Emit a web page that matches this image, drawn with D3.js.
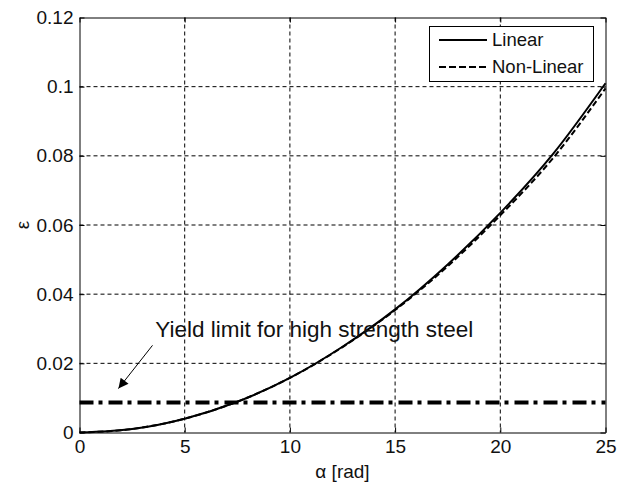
<!DOCTYPE html>
<html>
<head>
<meta charset="utf-8">
<script src="https://cdn.jsdelivr.net/npm/d3@7"></script>
<style>
  html, body { margin: 0; padding: 0; background: #fff; }
  svg { display: block; }
  text { font-family: "Liberation Sans", Arial, Helvetica, sans-serif; fill: #111; }
</style>
</head>
<body>
<svg id="chart" width="618" height="487"></svg>
<script>
// ---- data ----
const alpha = [0, 2.5, 5, 7.5, 10, 12.5, 15, 17.5, 20, 22.5, 25];
const linearEps = [0, 0.0010, 0.0040, 0.0089, 0.0158, 0.0248, 0.0356, 0.0486, 0.0635, 0.0805, 0.1010];
const nonLinearEps = [0, 0.0010, 0.0040, 0.0089, 0.0158, 0.0247, 0.0354, 0.0481, 0.0628, 0.0793, 0.0995];
const yieldLimit = 0.0087;
const xTicks = [0, 5, 10, 15, 20, 25];
const xTickLabels = ["0", "5", "10", "15", "20", "25"];
const yTicks = [0, 0.02, 0.04, 0.06, 0.08, 0.10, 0.12];
const yTickLabels = ["0", "0.02", "0.04", "0.06", "0.08", "0.1", "0.12"];
const seriesNames = ["Linear", "Non-Linear"];
const annotationText = "Yield limit for high strength steel";
const annotationTextPos = [3.6, 0.0275];
const arrowFrom = [3.47, 0.0252];
const arrowTo = [1.85, 0.0127];
const xLabel = "\u03B1 [rad]";
const yLabel = "\u03B5";

// ---- layout ----
const W = 618, H = 487;
const L = 79.5, R = 605.5, T = 17.5, B = 432.5;
const svg = d3.select("#chart");
svg.append("rect").attr("width", W).attr("height", H).attr("fill", "#fff");

const x = d3.scaleLinear().domain([0, 25]).range([L, R]);
const y = d3.scaleLinear().domain([0, 0.12]).range([B, T]);

// grid
const grid = svg.append("g").attr("stroke", "#000").attr("stroke-width", 1).attr("stroke-dasharray", "4,3").attr("fill", "none");
xTicks.slice(1, -1).forEach(v => {
  grid.append("line").attr("x1", x(v)).attr("x2", x(v)).attr("y1", T).attr("y2", B);
});
yTicks.slice(1, -1).forEach(v => {
  grid.append("line").attr("x1", L).attr("x2", R).attr("y1", y(v)).attr("y2", y(v));
});

// curves
const line = d3.line().x(d => x(d[0])).y(d => y(d[1])).curve(d3.curveMonotoneX);
const linPts = alpha.map((a, i) => [a, linearEps[i]]);
const nlPts = alpha.map((a, i) => [a, nonLinearEps[i]]);
const plot = svg.append("g");
plot.append("path").datum(linPts).attr("d", line).attr("fill", "none").attr("stroke", "#000").attr("stroke-width", 2);
plot.append("path").datum(nlPts).attr("d", line).attr("fill", "none").attr("stroke", "#000").attr("stroke-width", 2).attr("stroke-dasharray", "6,3");

// yield line
plot.append("line").attr("x1", x(0)).attr("x2", x(25)).attr("y1", y(yieldLimit)).attr("y2", y(yieldLimit))
  .attr("stroke", "#000").attr("stroke-width", 4).attr("stroke-dasharray", "14,5,4,6");

// axes
const fs = "19px";
const xAxis = d3.axisBottom(x).tickValues(xTicks).tickFormat((d, i) => xTickLabels[i]).tickSize(-5).tickSizeOuter(0).tickPadding(7);
const yAxis = d3.axisLeft(y).tickValues(yTicks).tickFormat((d, i) => yTickLabels[i]).tickSize(-5).tickSizeOuter(0).tickPadding(6);
const xTop = d3.axisTop(x).tickValues(xTicks).tickFormat("").tickSize(-5).tickSizeOuter(0);
const yRight = d3.axisRight(y).tickValues(yTicks).tickFormat("").tickSize(-5).tickSizeOuter(0);

function styleAxis(g) {
  g.selectAll("path, line").attr("stroke", "#000").attr("stroke-width", 1);
  g.selectAll("text").attr("font-size", fs).attr("fill", "#222")
    .style("font-family", "'Liberation Sans', Arial, sans-serif");
  g.attr("font-family", null).attr("font-size", null);
}
svg.append("g").attr("transform", `translate(0,${B})`).call(xAxis).call(styleAxis);
svg.append("g").attr("transform", `translate(${L},0)`).call(yAxis).call(styleAxis);
svg.append("g").attr("transform", `translate(0,${T})`).call(xTop).call(styleAxis);
svg.append("g").attr("transform", `translate(${R},0)`).call(yRight).call(styleAxis);

// axis labels
svg.append("text").attr("x", (L + R) / 2).attr("y", 478).attr("text-anchor", "middle").attr("font-size", "19px").attr("fill", "#222").text(xLabel);
svg.append("text").attr("transform", `translate(29,${(T + B) / 2}) rotate(-90)`).attr("text-anchor", "middle").attr("font-size", "19px").attr("fill", "#222").text(yLabel);

// legend
const lg = svg.append("g");
lg.append("rect").attr("x", 429.5).attr("y", 26.5).attr("width", 164).attr("height", 55).attr("fill", "#fff").attr("stroke", "#000").attr("stroke-width", 1);
const rowsY = [40, 67];
seriesNames.forEach((name, i) => {
  lg.append("line").attr("x1", 439).attr("x2", 487).attr("y1", rowsY[i]).attr("y2", rowsY[i])
    .attr("stroke", "#000").attr("stroke-width", 2).attr("stroke-dasharray", i === 1 ? "7,3" : null);
  lg.append("text").attr("x", 492).attr("y", rowsY[i]).attr("dy", "0.35em").attr("font-size", "18.5px").attr("fill", "#222").text(name);
});

// annotation
svg.append("defs").append("marker").attr("id", "ah").attr("viewBox", "0 0 10 10").attr("refX", 10).attr("refY", 5)
  .attr("markerWidth", 12).attr("markerHeight", 10).attr("markerUnits", "userSpaceOnUse").attr("orient", "auto")
  .append("path").attr("d", "M0,0 L10,5 L0,10 Z").attr("fill", "#000");
svg.append("line").attr("x1", x(arrowFrom[0])).attr("y1", y(arrowFrom[1])).attr("x2", x(arrowTo[0])).attr("y2", y(arrowTo[1]))
  .attr("stroke", "#000").attr("stroke-width", 1).attr("marker-end", "url(#ah)");
svg.append("text").attr("x", x(annotationTextPos[0])).attr("y", y(annotationTextPos[1])).attr("font-size", "22.5px").attr("fill", "#000").text(annotationText);
</script>
</body>
</html>
